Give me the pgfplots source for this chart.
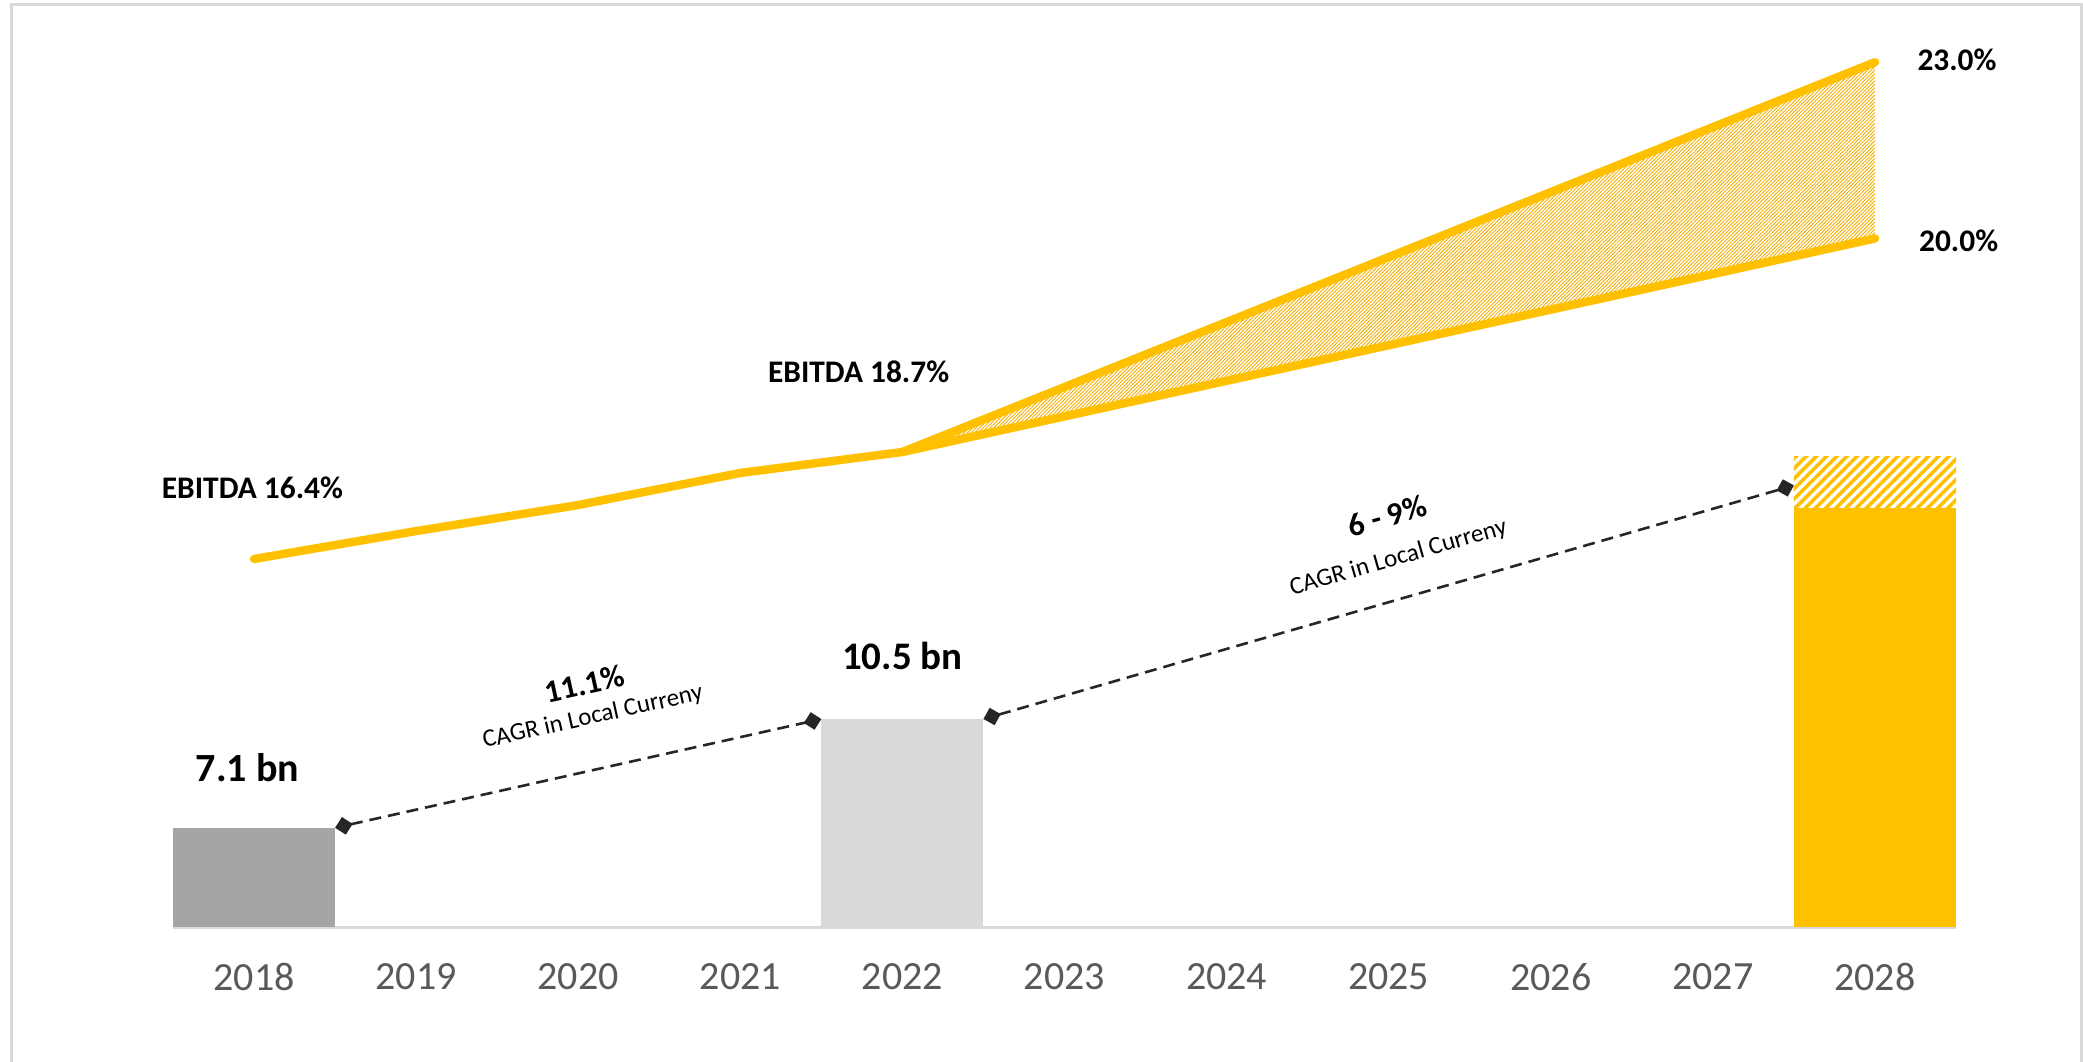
\documentclass[border=0pt]{standalone}
\usepackage{fontspec}
\setmainfont{Carlito}
\usepackage{pgfplots}
\pgfplotsset{compat=1.18}
\usetikzlibrary{patterns.meta,arrows.meta}

\definecolor{ebyellow}{HTML}{FFC000}
\definecolor{bardark}{HTML}{A5A5A5}
\definecolor{barlight}{HTML}{D9D9D9}
\definecolor{ticktext}{HTML}{595959}
\definecolor{connector}{HTML}{262626}
\definecolor{hatchline}{HTML}{F2AE00}
\definecolor{framegray}{HTML}{D9D9D9}

\begin{document}
\begin{tikzpicture}
\useasboundingbox (0,0) rectangle (1041.5pt,530.5pt);
\draw[framegray, line width=1.5pt] (5.5pt,-5pt) -- (5.5pt,528pt) -- (1040.5pt,528pt) -- (1040.5pt,-5pt);

% revenue bars (bn)
\begin{axis}[
  at={(86.5pt,67pt)}, anchor=south west,
  scale only axis, width=891.5pt, height=443.5pt,
  xmin=-0.5, xmax=10.5, ymin=4, ymax=31.72,
  axis x line=bottom, axis y line=none,
  x axis line style={draw=barlight, line width=1.5pt, -},
  xtick={0,...,10},
  xticklabels={2018,2019,2020,2021,2022,2023,2024,2025,2026,2027,2028},
  major tick length=0pt,
  xticklabel style={font=\fontsize{20}{24}\selectfont, text=ticktext, anchor=north, inner sep=0pt, yshift=-18pt},
  ytick=\empty,
]
\addplot[ybar, bar width=1, bar shift=0pt, fill=bardark, draw=none] coordinates {(0,7.1)};
\addplot[ybar, bar width=1, bar shift=0pt, fill=barlight, draw=none] coordinates {(4,10.5)};
\addplot[ybar, bar width=1, bar shift=0pt, fill=ebyellow, draw=none] coordinates {(10,17.1)};
% hatched upper range of 2028 (17.1 to 18.7)
\addplot[draw=none, pattern={Lines[angle=45,distance=3.6pt,line width=1.8pt]}, pattern color=ebyellow]
  coordinates {(9.5,17.1) (9.5,18.7) (10.5,18.7) (10.5,17.1) (9.5,17.1)};

\addplot[connector, line width=1.3pt, dash pattern=on 6pt off 3.5pt,
  {Turned Square[length=9pt,width=9pt]}-{Turned Square[length=9pt,width=9pt]}]
  coordinates {(0.5,7.1) (3.5,10.5)};
\addplot[connector, line width=1.3pt, dash pattern=on 6pt off 3.5pt,
  {Turned Square[length=9pt,width=9pt]}-{Turned Square[length=9pt,width=9pt]}]
  coordinates {(4.5,10.5) (9.5,17.8)};

\node[font=\fontsize{20}{24}\selectfont\bfseries] at (axis cs:-0.04,8.97) {7.1 bn};
\node[font=\fontsize{19.5}{23}\selectfont\bfseries] at (axis cs:4.0,12.47) {10.5 bn};
\node[font=\fontsize{16}{19}\selectfont\bfseries, rotate=12.5] at (axis cs:2.04,11.6) {11.1\%};
\node[font=\fontsize{12.5}{15}\selectfont, rotate=12.5] at (axis cs:2.09,10.56) {CAGR in Local Curreny};
\node[font=\fontsize{16}{19}\selectfont\bfseries, rotate=16] at (axis cs:6.99,16.85) {6 - 9\%};
\node[font=\fontsize{12.5}{15}\selectfont, rotate=16] at (axis cs:7.06,15.53) {CAGR in Local Curreny};
\end{axis}

% EBITDA margin (%)
\begin{axis}[
  at={(86.5pt,67pt)}, anchor=south west,
  scale only axis, width=891.5pt, height=443.5pt,
  xmin=-0.5, xmax=10.5, ymin=8.489, ymax=27.557,
  hide axis, clip=false,
]
\addplot[draw=none, pattern={Lines[angle=45,distance=1.25pt,line width=0.45pt]}, pattern color=hatchline]
  coordinates {(4,18.7) (10,27.08) (10,23.29) (4,18.7)};
\addplot[ebyellow, line width=4.2pt, line cap=round, line join=round]
  coordinates {(0,16.4) (1,17.0) (2,17.56) (3,18.25) (4,18.7) (10,23.29)};
\addplot[ebyellow, line width=4.2pt, line cap=round]
  coordinates {(4,18.7) (10,27.08)};

\node[font=\fontsize{15.7}{19}\selectfont\bfseries] at (axis cs:-0.01,17.93) {EBITDA 16.4\%};
\node[font=\fontsize{15.7}{19}\selectfont\bfseries] at (axis cs:3.73,20.42) {EBITDA 18.7\%};
\node[font=\fontsize{15.7}{19}\selectfont\bfseries, anchor=west, inner sep=0pt] at (axis cs:10.26,27.13) {23.0\%};
\node[font=\fontsize{15.7}{19}\selectfont\bfseries, anchor=west, inner sep=0pt] at (axis cs:10.27,23.24) {20.0\%};
\end{axis}
\end{tikzpicture}
\end{document}
